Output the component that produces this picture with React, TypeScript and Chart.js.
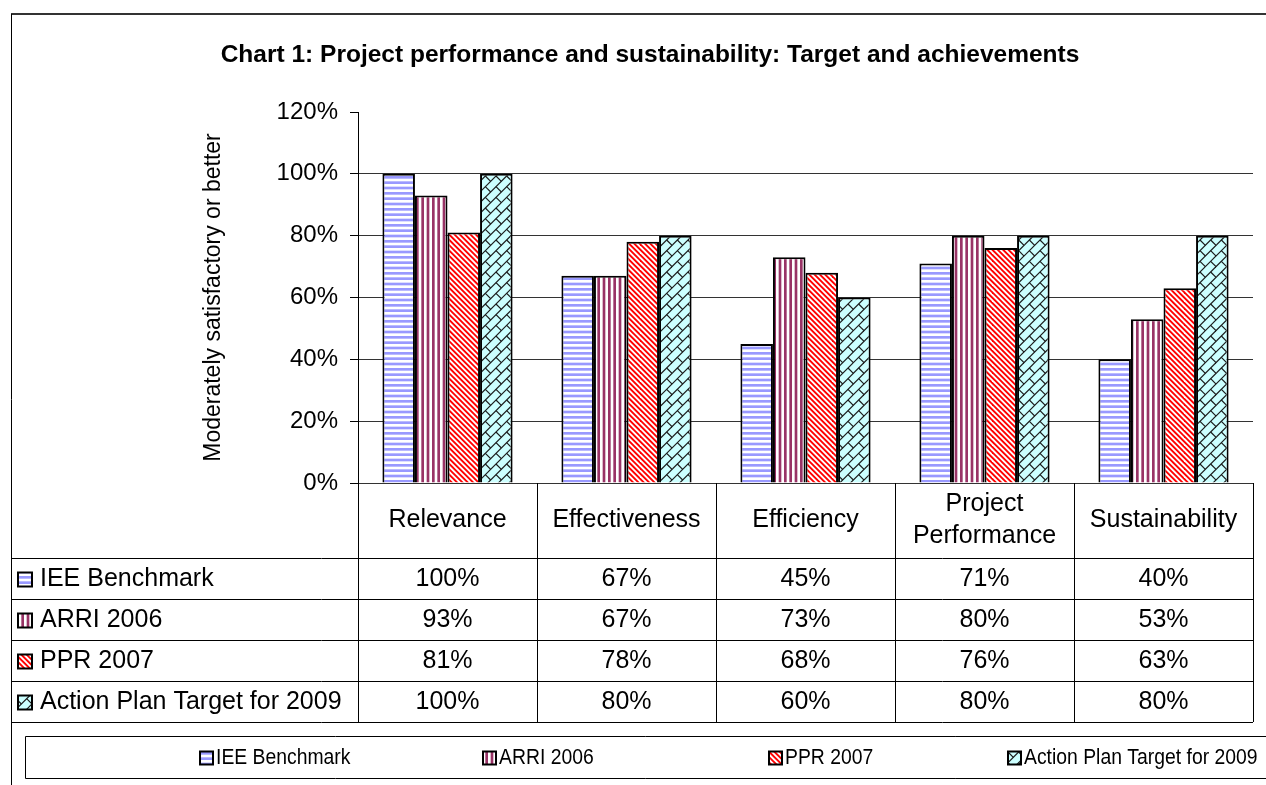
import React, { useEffect, useRef } from 'react';
import { Chart, registerables } from 'chart.js';

Chart.register(...registerables);

const categories: (string | string[])[] = ['Relevance', 'Effectiveness', 'Efficiency', ['Project', 'Performance'], 'Sustainability'];
const seriesNames = ['IEE Benchmark', 'ARRI 2006', 'PPR 2007', 'Action Plan Target for 2009'];
const ieeBenchmark = [100, 67, 45, 71, 40];
const arri2006 = [93, 67, 73, 80, 53];
const ppr2007 = [81, 78, 68, 76, 63];
const actionPlan2009 = [100, 80, 60, 80, 80];
const yMin = 0;
const yMax = 120;
const yStep = 20;
const titleText = 'Chart 1: Project performance and sustainability: Target and achievements';
const yAxisTitle = 'Moderately satisfactory or better';

const FONT = 'Arial, "Liberation Sans", sans-serif';
const W = 1266;
const H = 785;

type Kind = 'hstripe' | 'vstripe' | 'diag' | 'brick';

function makePattern(target: CanvasRenderingContext2D, kind: Kind, fg: string, bg: string): CanvasPattern | string {
  const c = document.createElement('canvas');
  c.width = 32;
  c.height = 32;
  const g = c.getContext('2d');
  if (!g) return bg;
  const s = 4 / 3;
  const p = 4 * s;
  g.fillStyle = bg;
  g.fillRect(0, 0, 32, 32);
  g.fillStyle = fg;
  g.strokeStyle = fg;
  if (kind === 'hstripe') {
    for (let k = 0; k < 7; k++) g.fillRect(0, k * p, 32, p / 2);
  } else if (kind === 'vstripe') {
    for (let k = 0; k < 7; k++) g.fillRect(k * p, 0, p / 2, 32);
  } else if (kind === 'diag') {
    for (let k = -8; k < 9; k++) {
      g.beginPath();
      g.moveTo(k * p, 0);
      g.lineTo(k * p + p / 2, 0);
      g.lineTo(k * p + p / 2 + 32, 32);
      g.lineTo(k * p + 32, 32);
      g.closePath();
      g.fill();
    }
  } else {
    g.lineWidth = 1.2;
    const t = 8 * s;
    for (let m = 0; m <= 7; m++) {
      const cval = m * t;
      g.beginPath();
      g.moveTo(cval + 2, -2);
      g.lineTo(-2, cval + 2);
      g.stroke();
    }
    for (let i = -1; i <= 3; i++) {
      for (let j = -1; j <= 3; j++) {
        g.beginPath();
        g.moveTo((8 * i + 4) * s, (8 * j + 4) * s);
        g.lineTo((8 * i + 8) * s, (8 * j + 8) * s);
        g.stroke();
      }
    }
  }
  const pat = target.createPattern(c, 'repeat');
  return pat || bg;
}

export default function App() {
  const ref = useRef<HTMLCanvasElement | null>(null);

  useEffect(() => {
    const canvas = ref.current;
    if (!canvas) return;
    const ctx0 = canvas.getContext('2d');
    if (!ctx0) return;

    const fills = [
      makePattern(ctx0, 'hstripe', '#9999FF', '#FFFFFF'),
      makePattern(ctx0, 'vstripe', '#993366', '#FFFFFF'),
      makePattern(ctx0, 'diag', '#FF0000', '#FFFFFF'),
      makePattern(ctx0, 'brick', '#1a1a1a', '#CCFFFF'),
    ];
    const seriesData = [ieeBenchmark, arri2006, ppr2007, actionPlan2009];

    const rowH = 41;
    const tableLeft = 11;
    const legendKeyX = [200, 483, 769, 1008];

    const drawKey = (ctx: CanvasRenderingContext2D, x: number, cy: number, fill: CanvasPattern | string, sz: number) => {
      ctx.fillStyle = fill as any;
      ctx.fillRect(x, cy - sz / 2, sz, sz);
      ctx.lineWidth = 2;
      ctx.strokeStyle = '#000';
      ctx.strokeRect(x, cy - sz / 2, sz, sz);
    };

    const tablePlugin = {
      id: 'dataTable',
      afterDraw(chart: any) {
        const ctx: CanvasRenderingContext2D = chart.ctx;
        const xs = chart.scales.x;
        const area = chart.chartArea;
        const n = chart.data.labels.length;
        const band = xs.width / n;
        const rowTop = xs.bottom;
        const ds = chart.data.datasets;
        const nRows = ds.length;
        const tableBottom = rowTop + nRows * rowH;
        ctx.save();
        // vertical lines of table
        ctx.strokeStyle = '#000';
        ctx.lineWidth = 1;
        for (let i = 0; i <= n; i++) {
          const x = Math.round(xs.left + i * band) + 0.5;
          ctx.beginPath();
          ctx.moveTo(x, area.bottom);
          ctx.lineTo(x, tableBottom);
          ctx.stroke();
        }
        for (let r = 0; r <= nRows; r++) {
          const y = Math.round(rowTop + r * rowH) + 0.5;
          ctx.beginPath();
          ctx.moveTo(tableLeft, y);
          ctx.lineTo(xs.right, y);
          ctx.stroke();
        }
        // rows
        ctx.font = `25px ${FONT}`;
        ctx.textBaseline = 'middle';
        for (let r = 0; r < nRows; r++) {
          const cy = rowTop + r * rowH + rowH / 2 + 1;
          drawKey(ctx, 18, cy, ds[r].backgroundColor, 14);
          ctx.fillStyle = '#000';
          ctx.textAlign = 'left';
          ctx.fillText(ds[r].label, 40, cy);
          ctx.textAlign = 'center';
          for (let i = 0; i < n; i++) {
            ctx.fillText(`${ds[r].data[i]}%`, xs.getPixelForValue(i), cy);
          }
        }
        // legend box (runs off the right edge)
        const lgTop = 736;
        const lgBottom = 778;
        ctx.strokeStyle = '#000';
        ctx.lineWidth = 1;
        ctx.beginPath();
        ctx.moveTo(W, lgTop + 0.5);
        ctx.lineTo(25.5, lgTop + 0.5);
        ctx.lineTo(25.5, lgBottom + 0.5);
        ctx.lineTo(W, lgBottom + 0.5);
        ctx.stroke();
        const lcy = (lgTop + lgBottom) / 2 + 1;
        ctx.font = `22px ${FONT}`;
        for (let r = 0; r < nRows; r++) {
          drawKey(ctx, legendKeyX[r], lcy, ds[r].backgroundColor, 13);
          ctx.fillStyle = '#000';
          ctx.textAlign = 'left';
          ctx.save();
          ctx.translate(legendKeyX[r] + 16, lcy);
          ctx.scale(0.88, 1);
          ctx.fillText(ds[r].label, 0, 0);
          ctx.restore();
        }
        // title
        ctx.font = `bold 24.5px ${FONT}`;
        ctx.textAlign = 'center';
        ctx.fillStyle = '#000';
        ctx.fillText(titleText, 650, 55);
        // outer border
        ctx.strokeStyle = '#333';
        ctx.lineWidth = 2;
        ctx.beginPath();
        ctx.moveTo(11, 14);
        ctx.lineTo(W, 14);
        ctx.stroke();
        ctx.strokeStyle = '#000';
        ctx.lineWidth = 1;
        ctx.beginPath();
        ctx.moveTo(11.5, 14);
        ctx.lineTo(11.5, H);
        ctx.stroke();
        ctx.restore();
      },
    };

    const chart = new Chart(canvas, {
      type: 'bar',
      data: {
        labels: categories as any,
        datasets: seriesNames.map((name, i) => ({
          label: name,
          data: seriesData[i],
          backgroundColor: fills[i] as any,
          borderColor: '#000',
          borderWidth: 2,
          categoryPercentage: 4 / 5.5,
          barPercentage: 1,
        })),
      },
      options: {
        responsive: false,
        animation: false,
        layout: { padding: { left: 0, right: 13, top: 112, bottom: 227 } },
        plugins: {
          legend: { display: false },
          title: { display: false },
          tooltip: { enabled: false },
        },
        scales: {
          x: {
            offset: true,
            grid: { display: false, drawTicks: false },
            border: { display: false },
            ticks: {
              font: { family: FONT, size: 25, lineHeight: 1.28 },
              color: '#000',
              padding: 21.5,
              maxRotation: 0,
              autoSkip: false,
              crossAlign: 'center',
            },
            afterFit: (s: any) => {
              s.height = 75;
            },
          },
          y: {
            min: yMin,
            max: yMax,
            ticks: {
              stepSize: yStep,
              callback: (v: any) => `${v}%`,
              font: { family: FONT, size: 24 },
              color: '#000',
              padding: 12,
            },
            grid: {
              color: (c: any) => (c.tick && c.tick.value === yMax ? 'rgba(0,0,0,0)' : '#333'),
              tickColor: '#000',
              tickLength: 8,
              lineWidth: 1,
            },
            border: { display: true, color: '#000', width: 1 },
            title: {
              display: true,
              text: yAxisTitle,
              font: { family: FONT, size: 23 },
              color: '#000',
              padding: { top: 200, bottom: 0 },
            },
            afterFit: (s: any) => {
              s.width = 358;
            },
          },
        },
      },
      plugins: [tablePlugin],
    } as any);

    return () => {
      chart.destroy();
    };
  }, []);

  return (
    <div style={{ position: 'fixed', left: 0, top: 0, width: W, height: H, background: '#fff' }}>
      <canvas ref={ref} width={W} height={H} style={{ display: 'block', width: W, height: H }} />
    </div>
  );
}
